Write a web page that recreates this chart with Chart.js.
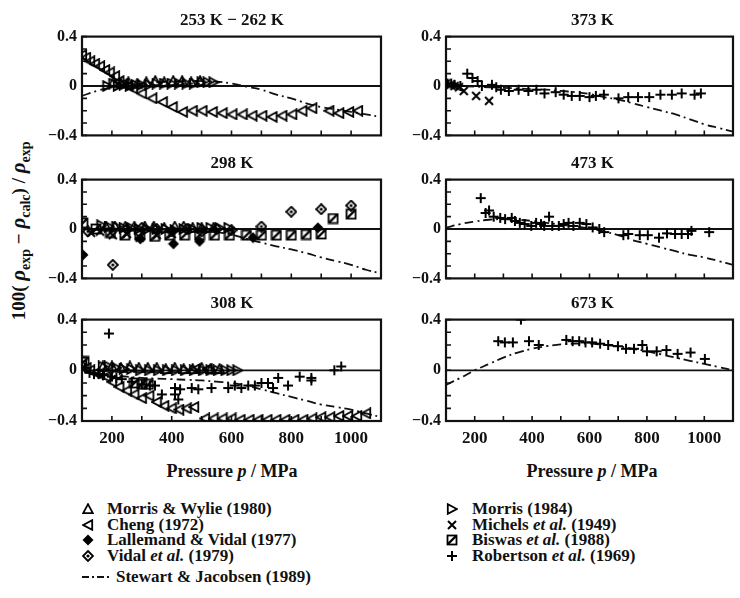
<!DOCTYPE html>
<html>
<head>
<meta charset="utf-8">
<script src="https://cdn.jsdelivr.net/npm/chart.js@4.4.1/dist/chart.umd.min.js"></script>
<style>
  body { margin: 0; background: #fff; }
  #fig { position: relative; width: 740px; height: 598px; overflow: hidden;
         font-family: "Liberation Serif", "DejaVu Serif", serif; font-weight: bold; color: #111; }
  #fig canvas.panel { position: absolute; }
  .ttl { position: absolute; text-align: center; font-size: 17px; line-height: 20px; }
  .xlab { position: absolute; width: 300px; text-align: center; font-size: 18px; line-height: 20px; }
  .ylab { position: absolute; left: -103px; top: 216px; width: 250px; text-align: center;
          font-size: 19px; line-height: 22px; white-space: nowrap; transform: rotate(-90deg); }
  .ylab i { font-size: 21px; }
  .ylab sub { font-size: 14px; }
  .leg { position: absolute; font-size: 17px; line-height: 16px; white-space: nowrap; }
</style>
</head>
<body>
<div id="fig">
  <div class="ylab">100( <i>ρ</i><sub>exp</sub> − <i>ρ</i><sub>calc</sub>) / <i>ρ</i><sub>exp</sub></div>
  <div class="xlab" style="left:82px; top:461px;">Pressure <i>p</i> / MPa</div>
  <div class="xlab" style="left:442px; top:461px;">Pressure <i>p</i> / MPa</div>
  <div id="legend"></div>
</div>
<script>
// --- Stewart & Jacobsen (1989) deviation curves, shared pressure grid (MPa) ---
const sjP = [100, 150, 200, 250, 300, 350, 400, 450, 500, 550, 600, 650, 700, 750, 800, 850, 900, 950, 1000, 1050, 1100];
const sj253 = [-0.08, -0.04, -0.01, 0.01, 0.02, 0.03, 0.035, 0.04, 0.04, 0.035, 0.02, -0.005, -0.03, -0.07, -0.1, -0.14, -0.17, -0.19, -0.21, -0.23, -0.25];
const sj298 = [0.0, -0.005, -0.005, -0.005, -0.005, -0.005, -0.005, -0.01, -0.01, -0.025, -0.045, -0.08, -0.11, -0.14, -0.165, -0.195, -0.23, -0.26, -0.29, -0.33, -0.36];
const sj308 = [0.0, -0.02, -0.04, -0.05, -0.06, -0.065, -0.07, -0.075, -0.08, -0.09, -0.1, -0.12, -0.15, -0.18, -0.21, -0.24, -0.27, -0.29, -0.31, -0.34, -0.37];
const sj373 = [0.0, 0.0, -0.005, -0.01, -0.015, -0.02, -0.025, -0.03, -0.04, -0.05, -0.065, -0.09, -0.11, -0.14, -0.17, -0.2, -0.23, -0.27, -0.31, -0.34, -0.37];
const sj473 = [0.01, 0.04, 0.06, 0.075, 0.08, 0.075, 0.065, 0.05, 0.035, 0.02, 0.005, -0.02, -0.05, -0.09, -0.12, -0.15, -0.18, -0.21, -0.23, -0.26, -0.29];
const sj673 = [-0.115, -0.06, 0.0, 0.05, 0.1, 0.14, 0.17, 0.19, 0.205, 0.21, 0.21, 0.2, 0.19, 0.17, 0.15, 0.125, 0.1, 0.075, 0.05, 0.025, 0.0];

// --- experimental points, [pressure MPa, 100(rho_exp - rho_calc)/rho_exp] ---
const cheng253 = [[100,0.25],[113,0.23],[127,0.2],[143,0.18],[160,0.16],[177,0.13],[193,0.11],[210,0.08],[225,0.04],[240,0.02],[255,0.0],[270,-0.02],[300,-0.06],[335,-0.1],[370,-0.13],[403,-0.17],[437,-0.21],[470,-0.2],[503,-0.2],[537,-0.21],[570,-0.22],[603,-0.23],[637,-0.23],[670,-0.24],[703,-0.24],[737,-0.25],[770,-0.24],[803,-0.23],[837,-0.2],[870,-0.18],[927,-0.2],[960,-0.22],[993,-0.21],[1023,-0.2]];
const wylie253 = [[205,0.03],[230,0.02],[255,0.03],[285,0.02],[315,0.03],[345,0.04],[375,0.03],[405,0.04],[435,0.04],[465,0.03],[495,0.04]];
const morris253 = [[185,0.0],[205,0.02],[220,0.0],[240,0.01],[260,0.0],[280,0.01],[300,0.01],[325,0.01],[350,0.02],[375,0.02],[400,0.02],[425,0.02],[450,0.02],[475,0.02],[500,0.03],[520,0.03],[540,0.03]];

const biswas298 = [[103,0.05],[147,0.0],[195,-0.03],[243,-0.05],[293,-0.05],[343,-0.06],[393,-0.05],[443,-0.05],[493,-0.05],[543,-0.05],[593,-0.05],[650,-0.05],[700,-0.05],[750,-0.05],[800,-0.05],[850,-0.045],[900,-0.04],[940,0.085],[1000,0.12]];
const vidal298 = [[120,-0.02],[203,-0.29],[250,0.0],[300,0.01],[350,0.0],[400,-0.02],[450,0.0],[500,-0.02],[550,0.0],[600,-0.01],[700,0.02],[800,0.14],[900,0.16],[1000,0.19]];
const lallemand298 = [[103,-0.21],[295,-0.08],[406,-0.12],[493,-0.1],[672,-0.07],[889,0.01]];
const michels298 = [[130,-0.03],[160,-0.02],[203,-0.05],[250,-0.04],[293,-0.07],[350,-0.05],[400,-0.04]];
const wylie298 = [[180,0.02],[210,0.02],[245,0.02],[275,0.02],[310,0.02],[340,0.02],[375,0.01],[410,0.02],[440,0.02],[470,0.01],[500,0.01],[540,0.01]];
const morris298 = [[165,0.03],[190,0.02],[215,0.02],[240,0.01],[265,0.01],[290,0.0],[320,0.0],[350,0.0],[380,0.0],[410,-0.01],[440,0.0],[470,0.0],[500,0.01],[530,0.01],[560,0.01],[590,0.01]];

const cheng308 = [[100,0.04],[115,0.02],[127,0.0],[145,-0.02],[160,-0.03],[180,-0.05],[200,-0.09],[225,-0.13],[250,-0.16],[275,-0.19],[300,-0.22],[325,-0.2],[350,-0.25],[375,-0.28],[400,-0.3],[425,-0.31],[450,-0.3],[475,-0.29],[480,0.01],[520,0.01],[511,-0.38],[540,-0.38],[570,-0.38],[600,-0.38],[630,-0.39],[660,-0.39],[690,-0.39],[720,-0.39],[750,-0.39],[780,-0.39],[810,-0.39],[840,-0.39],[870,-0.38],[900,-0.37],[930,-0.37],[960,-0.36],[990,-0.36],[1020,-0.36],[1050,-0.34]];
const wylie308 = [[170,0.03],[200,0.03],[230,0.02],[260,0.03],[290,0.02],[320,0.02],[350,0.02],[380,0.01],[410,0.02],[440,0.01],[470,0.01],[500,0.02],[530,0.01],[560,0.01]];
const morris308 = [[170,0.03],[190,0.03],[215,0.02],[240,0.01],[265,0.01],[295,0.0],[325,0.0],[355,0.0],[385,0.0],[415,0.0],[445,0.0],[475,0.0],[505,0.0],[530,0.0],[555,0.0],[580,0.0],[600,0.0],[620,0.0]];
const robertson308 = [[110,0.02],[125,-0.02],[140,-0.03],[155,-0.03],[170,-0.04],[190,0.29],[200,-0.05],[215,-0.06],[233,-0.07],[267,-0.09],[300,-0.11],[327,-0.12],[344,-0.12],[367,-0.19],[411,-0.14],[411,-0.19],[422,-0.23],[428,-0.15],[467,-0.14],[489,-0.15],[533,-0.14],[589,-0.14],[611,-0.12],[633,-0.14],[656,-0.12],[678,-0.12],[700,-0.1],[722,-0.1],[739,-0.14],[756,-0.06],[789,-0.12],[828,-0.05],[867,-0.06],[867,-0.08],[944,0.0],[967,0.03]];
const biswas308 = [[107,0.07],[275,-0.1],[300,-0.11],[322,-0.11]];

const robertson373 = [[105,0.02],[118,0.02],[130,0.01],[150,0.0],[174,0.1],[192,0.065],[210,0.04],[225,0.0],[260,0.01],[275,-0.01],[291,-0.03],[319,-0.04],[353,-0.03],[387,-0.04],[415,-0.03],[443,-0.06],[482,-0.05],[510,-0.07],[538,-0.08],[566,-0.08],[600,-0.09],[622,-0.08],[650,-0.07],[701,-0.1],[735,-0.09],[769,-0.09],[808,-0.09],[847,-0.07],[887,-0.07],[921,-0.06],[966,-0.07],[988,-0.06]];
const michels373 = [[100,0.02],[115,0.01],[130,0.0],[145,-0.01],[162,-0.04],[205,-0.08],[250,-0.12]];

const robertson473 = [[221,0.25],[238,0.13],[250,0.15],[266,0.1],[289,0.09],[306,0.08],[329,0.09],[340,0.065],[357,0.05],[374,0.04],[397,0.025],[414,0.05],[431,0.04],[442,0.025],[459,0.1],[470,0.025],[493,0.025],[510,0.04],[527,0.05],[544,0.025],[566,0.05],[589,0.04],[611,0.013],[634,0.0],[651,-0.025],[718,-0.05],[735,-0.04],[775,-0.05],[803,-0.05],[842,-0.07],[870,-0.035],[898,-0.04],[921,-0.04],[943,-0.04],[955,-0.015],[1017,-0.025]];

const robertson673 = [[282,0.23],[305,0.22],[333,0.22],[361,0.4],[389,0.23],[423,0.2],[519,0.24],[541,0.23],[564,0.23],[586,0.22],[609,0.22],[637,0.21],[665,0.2],[699,0.19],[727,0.17],[755,0.17],[784,0.2],[800,0.15],[834,0.15],[868,0.16],[907,0.13],[952,0.14],[1002,0.09]];

// --- marker glyphs, drawn once into small canvases ---
function marker(kind) {
  const c = document.createElement('canvas');
  c.width = 12; c.height = 12;
  const g = c.getContext('2d');
  g.strokeStyle = g.fillStyle = '#000';
  g.lineWidth = 1.8;
  g.lineJoin = 'miter';
  g.beginPath();
  switch (kind) {
    case 'up':    g.moveTo(6, 1.2); g.lineTo(10.8, 10.2); g.lineTo(1.2, 10.2); g.closePath(); g.stroke(); break;
    case 'left':  g.moveTo(1.2, 6); g.lineTo(10.2, 1.2); g.lineTo(10.2, 10.8); g.closePath(); g.stroke(); break;
    case 'right': g.moveTo(10.8, 6); g.lineTo(1.8, 1.2); g.lineTo(1.8, 10.8); g.closePath(); g.stroke(); break;
    case 'dfill': g.moveTo(6, 0.5); g.lineTo(11.5, 6); g.lineTo(6, 11.5); g.lineTo(0.5, 6); g.closePath(); g.fill(); break;
    case 'ddot':
      g.moveTo(6, 1); g.lineTo(11, 6); g.lineTo(6, 11); g.lineTo(1, 6); g.closePath(); g.stroke();
      g.beginPath(); g.arc(6, 6, 1.6, 0, Math.PI * 2); g.fill(); break;
    case 'x':
      g.lineWidth = 2;
      g.moveTo(2, 2); g.lineTo(10, 10); g.moveTo(10, 2); g.lineTo(2, 10); g.stroke(); break;
    case 'sq':
      g.strokeRect(1.5, 1.5, 9, 9);
      g.lineWidth = 2.4; g.beginPath(); g.moveTo(2, 10); g.lineTo(10, 2); g.stroke(); break;
    case 'plus':
      g.lineWidth = 2;
      g.moveTo(6, 1); g.lineTo(6, 11); g.moveTo(1, 6); g.lineTo(11, 6); g.stroke(); break;
  }
  return c;
}
const glyph = {};
['up', 'left', 'right', 'dfill', 'ddot', 'x', 'sq', 'plus'].forEach(k => { glyph[k] = marker(k); });

// --- frame, zero line and inward tick marks ---
const framePlugin = {
  id: 'frame',
  beforeDatasetsDraw(chart) {
    const { ctx, chartArea: a, scales: { x, y } } = chart;
    ctx.save();
    ctx.strokeStyle = '#111';
    ctx.lineWidth = 1.8;
    ctx.beginPath();
    const y0 = y.getPixelForValue(0);
    ctx.moveTo(a.left, y0); ctx.lineTo(a.right, y0);
    ctx.stroke();
    ctx.lineWidth = 1.6;
    ctx.beginPath();
    y.ticks.forEach(t => { const py = y.getPixelForValue(t.value); ctx.moveTo(a.left, py); ctx.lineTo(a.left + 5, py); });
    x.ticks.forEach(t => { const px = x.getPixelForValue(t.value); ctx.moveTo(px, a.bottom); ctx.lineTo(px, a.bottom - 5); });
    ctx.stroke();
    ctx.lineWidth = 2.2;
    ctx.strokeRect(a.left, a.top, a.right - a.left, a.bottom - a.top);
    ctx.restore();
  }
};

Chart.defaults.font = { family: '"Liberation Serif", "DejaVu Serif", serif', size: 16, weight: 'bold' };
Chart.defaults.color = '#111';

const cols = [{ left: 30, width: 358, padRight: 6 }, { left: 394, width: 346, padRight: 1 }];
const rowTops = [32, 175, 315];
const plotH = 106;

const panels = [
  { col: 0, row: 0, title: '253 K − 262 K', curve: sj253, series: [['left', cheng253], ['up', wylie253], ['right', morris253]] },
  { col: 0, row: 1, title: '298 K', curve: sj298, series: [['sq', biswas298], ['ddot', vidal298], ['dfill', lallemand298], ['x', michels298], ['up', wylie298], ['right', morris298]] },
  { col: 0, row: 2, title: '308 K', curve: sj308, series: [['left', cheng308], ['up', wylie308], ['right', morris308], ['plus', robertson308], ['sq', biswas308]] },
  { col: 1, row: 0, title: '373 K', curve: sj373, series: [['plus', robertson373], ['x', michels373]] },
  { col: 1, row: 1, title: '473 K', curve: sj473, series: [['plus', robertson473]] },
  { col: 1, row: 2, title: '673 K', curve: sj673, series: [['plus', robertson673]] }
];

const fig = document.getElementById('fig');

panels.forEach(pn => {
  const c = cols[pn.col];
  const top = rowTops[pn.row];
  const bottomRow = pn.row === 2;
  const xH = bottomRow ? 30 : 12;
  const canvas = document.createElement('canvas');
  canvas.className = 'panel';
  canvas.width = c.width;
  canvas.height = 10 + plotH + xH;
  canvas.style.left = c.left + 'px';
  canvas.style.top = (top - 10) + 'px';
  fig.appendChild(canvas);

  const t = document.createElement('div');
  t.className = 'ttl';
  t.textContent = pn.title;
  t.style.left = (c.left + 52) + 'px';
  t.style.width = (c.width - 52 - c.padRight) + 'px';
  t.style.top = (top - 22) + 'px';
  fig.appendChild(t);

  const datasets = pn.series.map(([kind, arr]) => ({
    data: arr.map(([p, d]) => ({ x: p, y: d })),
    pointStyle: glyph[kind],
    showLine: false
  }));
  // curve goes last so it is painted beneath the markers
  datasets.push({
    data: sjP.map((p, i) => ({ x: p, y: pn.curve[i] })),
    showLine: true,
    borderColor: '#111',
    borderWidth: 1.8,
    borderDash: [9, 4, 2, 4],
    pointRadius: 0,
    tension: 0.4
  });

  new Chart(canvas, {
    type: 'scatter',
    data: { datasets },
    options: {
      responsive: false,
      animation: false,
      events: [],
      layout: { padding: { top: 10, right: c.padRight, bottom: 0, left: 0 } },
      plugins: { legend: { display: false }, tooltip: { enabled: false } },
      scales: {
        x: {
          type: 'linear', min: 100, max: 1100,
          grid: { display: false, drawTicks: false },
          border: { display: false },
          ticks: {
            stepSize: 100, autoSkip: false, maxRotation: 0, padding: 7,
            font: { size: 17 },
            callback: v => (bottomRow && v % 200 === 0 && v >= 200 && v <= 1000) ? String(v) : ''
          },
          afterFit: s => { s.height = xH; }
        },
        y: {
          min: -0.4, max: 0.4,
          grid: { display: false, drawTicks: false },
          border: { display: false },
          ticks: {
            stepSize: 0.1, autoSkip: false, padding: 5,
            callback: v => Math.abs(v - 0.4) < 1e-6 ? '0.4' : Math.abs(v) < 1e-6 ? '0' : Math.abs(v + 0.4) < 1e-6 ? '−0.4' : ''
          },
          afterFit: s => { s.width = 52; }
        }
      }
    },
    plugins: [framePlugin]
  });
});

// --- key below the panels ---
const legendRows = [
  [88, 107, 509, 'up', 'Morris &amp; Wylie (1980)'],
  [88, 107, 525, 'left', 'Cheng (1972)'],
  [88, 107, 540, 'dfill', 'Lallemand &amp; Vidal (1977)'],
  [88, 107, 556, 'ddot', 'Vidal <i>et al.</i> (1979)'],
  [452, 472, 509, 'right', 'Morris (1984)'],
  [452, 472, 525, 'x', 'Michels <i>et al.</i> (1949)'],
  [452, 472, 540, 'sq', 'Biswas <i>et al.</i> (1988)'],
  [452, 472, 556, 'plus', 'Robertson <i>et al.</i> (1969)']
];
const legend = document.getElementById('legend');
legendRows.forEach(([mx, tx, cy, kind, html]) => {
  const m = marker(kind);
  m.style.position = 'absolute';
  m.style.left = (mx - 6) + 'px';
  m.style.top = (cy - 6) + 'px';
  legend.appendChild(m);
  const d = document.createElement('div');
  d.className = 'leg';
  d.style.left = tx + 'px';
  d.style.top = (cy - 8) + 'px';
  d.innerHTML = html;
  legend.appendChild(d);
});

// dash-dot key for the Stewart & Jacobsen curve
const keyLine = document.createElement('canvas');
keyLine.width = 30; keyLine.height = 6;
keyLine.style.position = 'absolute';
keyLine.style.left = '82px';
keyLine.style.top = '574px';
const kg = keyLine.getContext('2d');
kg.strokeStyle = '#111'; kg.lineWidth = 1.8;
kg.setLineDash([7, 3, 2, 3]);
kg.beginPath(); kg.moveTo(0, 3); kg.lineTo(27, 3); kg.stroke();
legend.appendChild(keyLine);
const keyText = document.createElement('div');
keyText.className = 'leg';
keyText.style.left = '116px';
keyText.style.top = '569px';
keyText.innerHTML = 'Stewart &amp; Jacobsen (1989)';
legend.appendChild(keyText);
</script>
</body>
</html>
